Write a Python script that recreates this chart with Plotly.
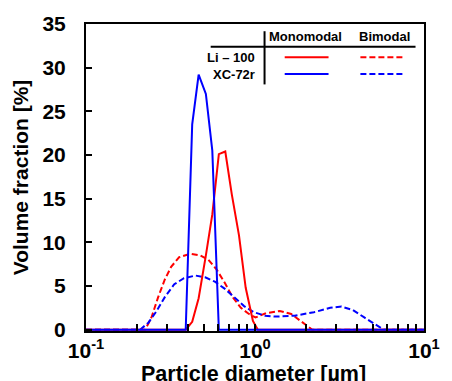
import plotly.graph_objects as go

# ---- data ----
li_mono_x = [0.1, 0.389, 0.425, 0.464, 0.512, 0.559, 0.611, 0.667, 0.729, 0.804, 0.881, 0.972, 1.04, 10]
li_mono_y = [0, 0, 0.9, 3.6, 8.5, 13.2, 20.1, 20.4, 15.5, 10.8, 4.8, 1.0, 0, 0]

xc_mono_x = [0.1, 0.389, 0.425, 0.464, 0.512, 0.559, 0.611, 10]
xc_mono_y = [0, 0, 23.5, 29.2, 27.0, 20.5, 0, 0]

li_bi_x = [0.1, 0.224, 0.244, 0.267, 0.292, 0.319, 0.356, 0.415, 0.475, 0.530, 0.592, 0.661,
           0.739, 0.825, 0.921, 1.007, 1.149, 1.403, 1.638, 1.955, 2.183, 10]
li_bi_y = [0, 0, 1.4, 3.7, 5.7, 7.2, 8.3, 8.7, 8.5, 8.0, 6.9, 5.4,
           3.7, 2.5, 1.8, 1.4, 1.85, 2.15, 1.8, 0.65, 0, 0]

xc_bi_x = [0.1, 0.209, 0.234, 0.261, 0.292, 0.333, 0.380, 0.444, 0.507, 0.579, 0.661, 0.755,
           0.862, 0.984, 1.149, 1.313, 1.712, 2.232, 2.786, 3.250, 3.795, 4.432, 5.062, 5.781, 10]
xc_bi_y = [0, 0, 0.8, 2.1, 3.7, 5.2, 5.9, 6.2, 6.0, 5.5, 4.7, 3.7,
           2.7, 2.0, 1.6, 1.5, 1.6, 2.0, 2.5, 2.65, 2.25, 1.4, 0.65, 0, 0]

# x ticks: every 1..9 x decade, labels only at decades
x_tickvals = [0.1, 0.2, 0.3, 0.4, 0.5, 0.6, 0.7, 0.8, 0.9,
              1, 2, 3, 4, 5, 6, 7, 8, 9, 10]
x_ticktext = ["10<sup>-1</sup>", "", "", "", "", "", "", "", "",
              "10<sup>0</sup>", "", "", "", "", "", "", "", "", "10<sup>1</sup>"]
y_tickvals = [0, 5, 10, 15, 20, 25, 30, 35]

RED = "#ff0000"
BLUE = "#0000ff"
DASH = "6px,3px"
FONT = "Liberation Sans, Arial, sans-serif"

fig = go.Figure()
fig.add_trace(go.Scatter(x=li_bi_x, y=li_bi_y, mode="lines",
                         line=dict(color=RED, width=2, dash=DASH)))
fig.add_trace(go.Scatter(x=xc_bi_x, y=xc_bi_y, mode="lines",
                         line=dict(color=BLUE, width=2, dash=DASH)))
fig.add_trace(go.Scatter(x=li_mono_x, y=li_mono_y, mode="lines",
                         line=dict(color=RED, width=2)))
fig.add_trace(go.Scatter(x=xc_mono_x, y=xc_mono_y, mode="lines",
                         line=dict(color=BLUE, width=2)))

fig.update_layout(
    width=452, height=381,
    margin=dict(l=86, r=19, t=20, b=50),
    paper_bgcolor="white", plot_bgcolor="white",
    showlegend=False,
    font=dict(family=FONT, color="black"),
)
fig.update_xaxes(
    type="log", range=[-1, 1],
    tickvals=x_tickvals, ticktext=x_ticktext,
    tickfont=dict(size=21, family=FONT, color="black", weight="bold"),
    ticks="inside", ticklen=7, tickwidth=2, tickcolor="black",
    showline=True, linecolor="black", linewidth=2, mirror=True,
    showgrid=False, zeroline=False,
)
fig.update_yaxes(
    range=[-0.15, 35],
    tickvals=y_tickvals,
    tickfont=dict(size=21, family=FONT, color="black", weight="bold"),
    ticks="inside", ticklen=6, tickwidth=2, tickcolor="black",
    ticklabelstandoff=14,
    showline=True, linecolor="black", linewidth=2, mirror=True,
    showgrid=False, zeroline=False,
)

# axis titles
fig.add_annotation(text="<b>Volume fraction [%]</b>", xref="paper", yref="paper",
                   x=-0.193, y=0.5, showarrow=False, textangle=-90,
                   xanchor="center", yanchor="middle",
                   font=dict(size=21, family=FONT, color="black"))
fig.add_annotation(text="<b>Particle diameter [µm]</b>", xref="paper", yref="paper",
                   x=0.495, y=-0.141, showarrow=False, xanchor="center", yanchor="middle",
                   font=dict(size=21.5, family=FONT, color="black"))

# legend table
def px2x(px):
    return (px - 86) / 347.0

def py2y(py):
    return (330.7 - py) / 310.0

fig.add_shape(type="line", xref="paper", yref="paper",
              x0=px2x(269.3), x1=px2x(269.3), y0=py2y(28), y1=py2y(81.7),
              line=dict(color="black", width=2))
fig.add_shape(type="line", xref="paper", yref="paper",
              x0=px2x(214), x1=px2x(424.3), y0=py2y(43.7), y1=py2y(43.7),
              line=dict(color="black", width=2))
for txt, cx in [("Monomodal", 311.7), ("Bimodal", 392.7)]:
    fig.add_annotation(text="<b>%s</b>" % txt, xref="paper", yref="paper",
                       x=px2x(cx), y=py2y(33.6), showarrow=False,
                       xanchor="center", yanchor="middle",
                       font=dict(size=13, family=FONT, color="black"))
for txt, cy, col in [("Li – 100", 54.3, RED), ("XC-72r", 71.3, BLUE)]:
    fig.add_annotation(text="<b>%s</b>" % txt, xref="paper", yref="paper",
                       x=px2x(262), y=py2y(cy), showarrow=False,
                       xanchor="right", yanchor="middle",
                       font=dict(size=13, family=FONT, color="black"))
    fig.add_shape(type="line", xref="paper", yref="paper",
                  x0=px2x(290), x1=px2x(335), y0=py2y(cy), y1=py2y(cy),
                  line=dict(color=col, width=2))
    fig.add_shape(type="line", xref="paper", yref="paper",
                  x0=px2x(367.7), x1=px2x(412.7), y0=py2y(cy), y1=py2y(cy),
                  line=dict(color=col, width=2, dash=DASH))

fig.write_html("out.html")
